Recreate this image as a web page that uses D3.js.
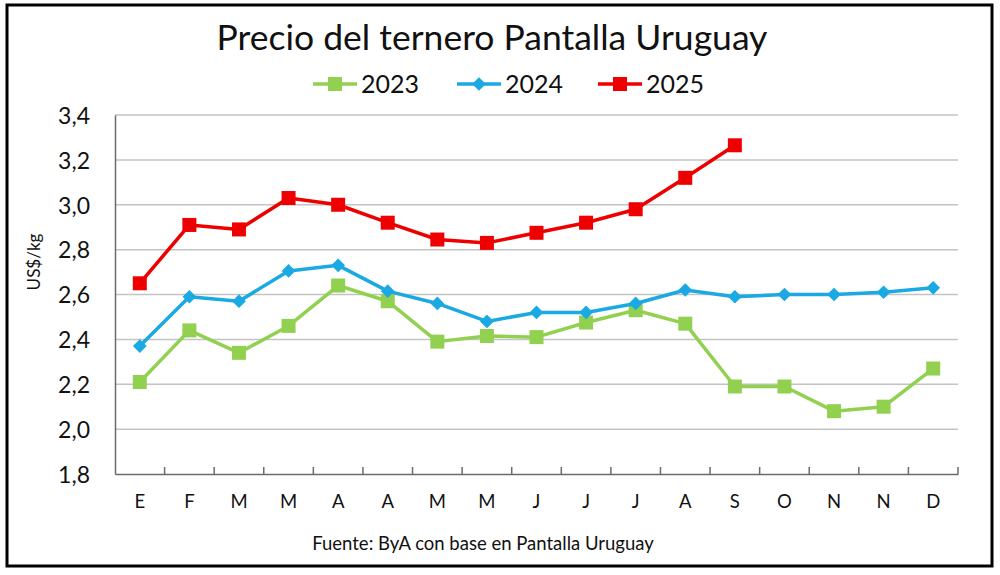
<!DOCTYPE html>
<html>
<head>
<meta charset="utf-8">
<script src="https://cdn.jsdelivr.net/npm/d3@7"></script>
<style>
  body { margin: 0; background: #fff; }
  svg { display: block; font-family: Lato, "Open Sans", sans-serif; }
</style>
</head>
<body>
<div id="chart"></div>
<script>
// months (bi-weekly points, labelled by initial)
var months = ["E", "F", "M", "M", "A", "A", "M", "M", "J", "J", "J", "A", "S", "O", "N", "N", "D"];
var yTicks = [1.8, 2.0, 2.2, 2.4, 2.6, 2.8, 3.0, 3.2, 3.4];

var v2023 = [2.21, 2.44, 2.34, 2.46, 2.64, 2.57, 2.39, 2.415, 2.41, 2.475, 2.53, 2.47, 2.19, 2.19, 2.08, 2.10, 2.27];
var v2024 = [2.37, 2.59, 2.57, 2.705, 2.73, 2.615, 2.56, 2.48, 2.52, 2.52, 2.56, 2.62, 2.59, 2.60, 2.60, 2.61, 2.63];
var v2025 = [2.65, 2.91, 2.89, 3.03, 3.00, 2.92, 2.845, 2.83, 2.875, 2.92, 2.98, 3.12, 3.265];

var seriesNames = ["2023", "2024", "2025"];
var seriesColors = ["#92d050", "#1aa9e3", "#ee0000"];
var seriesShapes = ["square", "diamond", "square"];

(function () {
    var width = 1000, height = 575,
        left = 115, right = 958, top = 115, bottom = 474;

    var svg = d3.select("#chart").append("svg")
        .attr("width", width).attr("height", height);

    // frame
    svg.append("rect")
        .attr("x", 7).attr("y", 5)
        .attr("width", 985).attr("height", 561)
        .style("fill", "#fff")
        .style("stroke", "#000")
        .style("stroke-width", 3);

    var x = d3.scaleBand().domain(d3.range(months.length)).range([left, right]);
    var y = d3.scaleLinear().domain([1.8, 3.4]).range([bottom, top]);
    var cx = function (i) { return x(i) + x.bandwidth() / 2; };

    var es = d3.formatLocale({decimal: ",", thousands: ".", grouping: [3], currency: ["", ""]});
    var fmt = es.format(".1f");

    // gridlines
    svg.append("g").selectAll("line")
        .data(yTicks.slice(1))
        .enter().append("line")
        .attr("x1", left).attr("x2", right)
        .attr("y1", function (d) { return y(d); })
        .attr("y2", function (d) { return y(d); })
        .style("stroke", "#c3c3c3")
        .style("stroke-width", 1.5);

    // y axis
    var yAxis = svg.append("g")
        .attr("transform", "translate(" + left + ",0)")
        .call(d3.axisLeft(y).tickValues(yTicks).tickFormat(fmt).tickSize(0).tickPadding(25));
    yAxis.select(".domain").style("stroke", "#6b6b6b").style("stroke-width", 1.5);
    yAxis.selectAll("text")
        .style("font-family", "Lato, sans-serif")
        .style("font-size", "23px")
        .style("fill", "#111")
        .attr("dy", "0.36em");

    // x axis
    var xAxis = svg.append("g")
        .attr("transform", "translate(0," + bottom + ")")
        .call(d3.axisBottom(x).tickFormat(function (i) { return months[i]; }).tickSize(0).tickPadding(21));
    xAxis.select(".domain").style("stroke", "#6b6b6b").style("stroke-width", 1.5);
    xAxis.selectAll("text")
        .style("font-family", "Lato, sans-serif")
        .style("font-size", "18.5px")
        .style("fill", "#111");

    // tick marks at category boundaries
    svg.append("g").selectAll("line")
        .data(d3.range(1, months.length + 1))
        .enter().append("line")
        .attr("x1", function (i) { return i < months.length ? x(i) : right; })
        .attr("x2", function (i) { return i < months.length ? x(i) : right; })
        .attr("y1", bottom).attr("y2", bottom - 7)
        .style("stroke", "#6b6b6b")
        .style("stroke-width", 1.5);

    // y axis title
    svg.append("text")
        .attr("transform", "translate(40,262) rotate(-90)")
        .style("text-anchor", "middle")
        .style("font-size", "17px")
        .style("fill", "#111")
        .text("US$/kg");

    // series
    var allSeries = [v2023, v2024, v2025];
    var line = d3.line()
        .x(function (d, i) { return cx(i); })
        .y(function (d) { return y(d); });

    function marker(g, shape, color, px, py) {
        if (shape === "square") {
            g.append("rect")
                .attr("x", px - 7).attr("y", py - 7)
                .attr("width", 14).attr("height", 14)
                .style("fill", color);
        } else {
            g.append("path")
                .attr("d", d3.symbol().type(d3.symbolDiamond2).size(120)())
                .attr("transform", "translate(" + px + "," + py + ")")
                .style("fill", color);
        }
    }

    allSeries.forEach(function (vals, s) {
        var g = svg.append("g");
        g.append("path")
            .datum(vals)
            .attr("d", line)
            .style("fill", "none")
            .style("stroke", seriesColors[s])
            .style("stroke-width", 3.5)
            .style("stroke-linejoin", "round");
        vals.forEach(function (d, i) {
            marker(g, seriesShapes[s], seriesColors[s], cx(i), y(d));
        });
    });

    // title
    svg.append("text")
        .attr("x", 492).attr("y", 50)
        .style("text-anchor", "middle")
        .style("font-size", "35.5px")
        .style("fill", "#111")
        .text("Precio del ternero Pantalla Uruguay");

    // legend
    var legendX = [313, 457, 598];
    seriesNames.forEach(function (name, s) {
        var g = svg.append("g").attr("transform", "translate(" + legendX[s] + ",84)");
        g.append("line")
            .attr("x1", 0).attr("x2", 44)
            .style("stroke", seriesColors[s])
            .style("stroke-width", 3.5);
        marker(g, seriesShapes[s], seriesColors[s], 22, 0);
        g.append("text")
            .attr("x", 48).attr("y", 9)
            .style("font-size", "25px")
            .style("fill", "#111")
            .text(name);
    });

    // source
    svg.append("text")
        .attr("x", 483).attr("y", 550)
        .style("text-anchor", "middle")
        .style("font-size", "18.5px")
        .style("fill", "#111")
        .text("Fuente: ByA con base en Pantalla Uruguay");
}());
</script>
</body>
</html>
